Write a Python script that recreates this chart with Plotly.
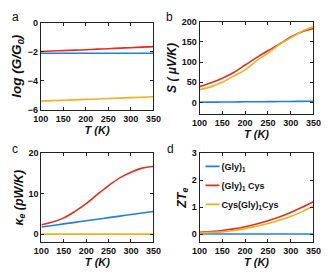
import plotly.graph_objects as go

T = [100, 125, 150, 175, 200, 225, 250, 275, 300, 325, 350]
names = ["(Gly)<sub>1</sub>", "(Gly)<sub>1</sub> Cys", "Cys(Gly)<sub>1</sub>Cys"]
colors = ["#1f7fe0", "#e0301e", "#f0b020"]

logG = [[-2.1, -2.1, -2.1, -2.1, -2.1, -2.1, -2.1, -2.1, -2.1, -2.1, -2.1],
        [-1.98, -1.95, -1.92, -1.89, -1.86, -1.82, -1.79, -1.75, -1.72, -1.68, -1.65],
        [-5.38, -5.35, -5.33, -5.30, -5.27, -5.24, -5.21, -5.18, -5.15, -5.12, -5.09]]
S = [[0.3, 0.5, 0.8, 1.0, 1.3, 1.5, 1.8, 2.0, 2.2, 2.4, 2.6],
     [39, 48.6, 60, 74, 92.5, 111, 128, 144, 162, 175, 183],
     [31, 39, 50, 65, 80.5, 103, 122, 143, 160, 176, 188]]
kappa = [[1.75, 2.13, 2.52, 2.9, 3.29, 3.67, 4.06, 4.44, 4.83, 5.21, 5.6],
         [2.3, 3.0, 4.0, 5.6, 7.5, 9.8, 12.0, 13.9, 15.3, 16.3, 16.7],
         [0, 0, 0, 0, 0, 0, 0, 0, 0, 0, 0]]
ZT = [[0, 0, 0, 0, 0, 0, 0, 0, 0, 0, 0],
      [0.06, 0.09, 0.13, 0.19, 0.27, 0.37, 0.49, 0.63, 0.80, 0.99, 1.20],
      [0.04, 0.06, 0.08, 0.13, 0.20, 0.29, 0.39, 0.51, 0.65, 0.83, 1.04]]

panels = [
    dict(data=logG, xd=[0.105, 0.466], yd=[0.6065, 0.934], yr=[-6, 0], dt=2,
         title="<i>log (G/G<sub>0</sub>)</i>", tsize=13.5, letter="a", lx=0.008, ly=0.99),
    dict(data=S, xd=[0.614, 0.979], yd=[0.591, 0.9375], yr=[-29.4, 200], dt=50,
         title="<i>S ( μV/K)</i>", tsize=12, letter="b", lx=0.5, ly=0.99),
    dict(data=kappa, xd=[0.107, 0.466], yd=[0.111, 0.445], yr=[-2.05, 20], dt=10,
         title="<i>κ<sub>e</sub> (pW/K)</i>", tsize=12.5, letter="c", lx=0.008, ly=0.495),
    dict(data=ZT, xd=[0.614, 0.979], yd=[0.111, 0.445], yr=[-0.31, 3], dt=1,
         title="<i>ZT<sub>e</sub></i>", tsize=12.5, letter="d", lx=0.503, ly=0.495),
]

fig = go.Figure()
font = dict(family="Liberation Sans, Arial, sans-serif", size=9, color="#111111", weight="bold")
layout = dict(width=328, height=277, margin=dict(l=0, r=0, t=0, b=0),
              paper_bgcolor="white", plot_bgcolor="white", font=font, annotations=[])

for i, p in enumerate(panels):
    k = "" if i == 0 else str(i + 1)
    for j in range(3):
        fig.add_trace(go.Scatter(x=T, y=p["data"][j], mode="lines", name=names[j],
                                 line=dict(color=colors[j], width=1.6, shape="spline"),
                                 xaxis="x" + k, yaxis="y" + k, showlegend=(i == 3)))
    axcommon = dict(showgrid=False, zeroline=False, showline=True, linecolor="#222222",
                    linewidth=1, mirror="ticks", ticks="inside", ticklen=3,
                    tickcolor="#222222", tickfont=dict(size=9))
    layout["xaxis" + k] = dict(domain=p["xd"], range=[100, 350], tickmode="linear",
                               tick0=100, dtick=50, anchor="y" + k,
                               title=dict(text="<i>T (K)</i>", font=dict(size=11), standoff=1),
                               **axcommon)
    layout["yaxis" + k] = dict(domain=p["yd"], range=p["yr"], tickmode="linear",
                               tick0=0, dtick=p["dt"], anchor="x" + k,
                               title=dict(text=p["title"], font=dict(size=p["tsize"]), standoff=2),
                               **axcommon)
    layout["annotations"].append(dict(text=p["letter"], x=p["lx"], y=p["ly"], xref="paper",
                                      yref="paper", xanchor="left", yanchor="top",
                                      showarrow=False,
                                      font=dict(size=12, weight="normal", color="#111111")))

layout["legend"] = dict(x=0.617, y=0.45, xanchor="left", yanchor="top",
                        bgcolor="rgba(0,0,0,0)", font=dict(size=9), tracegroupgap=0,
                        itemwidth=30)
fig.update_layout(**layout)

js = """
var gd = document.querySelector('.plotly-graph-div');
function fixLegend(){
  gd.querySelectorAll('.legend .legendlines path').forEach(function(p){p.setAttribute('d','M5,0h14');});
  gd.querySelectorAll('.legend .legendtext').forEach(function(t){t.setAttribute('x', 21);});
}
fixLegend();
gd.on('plotly_afterplot', fixLegend);
document.body.style.margin='0';document.body.style.overflow='hidden';
"""
fig.write_html("out.html", config={"displayModeBar": False}, post_script=js)
